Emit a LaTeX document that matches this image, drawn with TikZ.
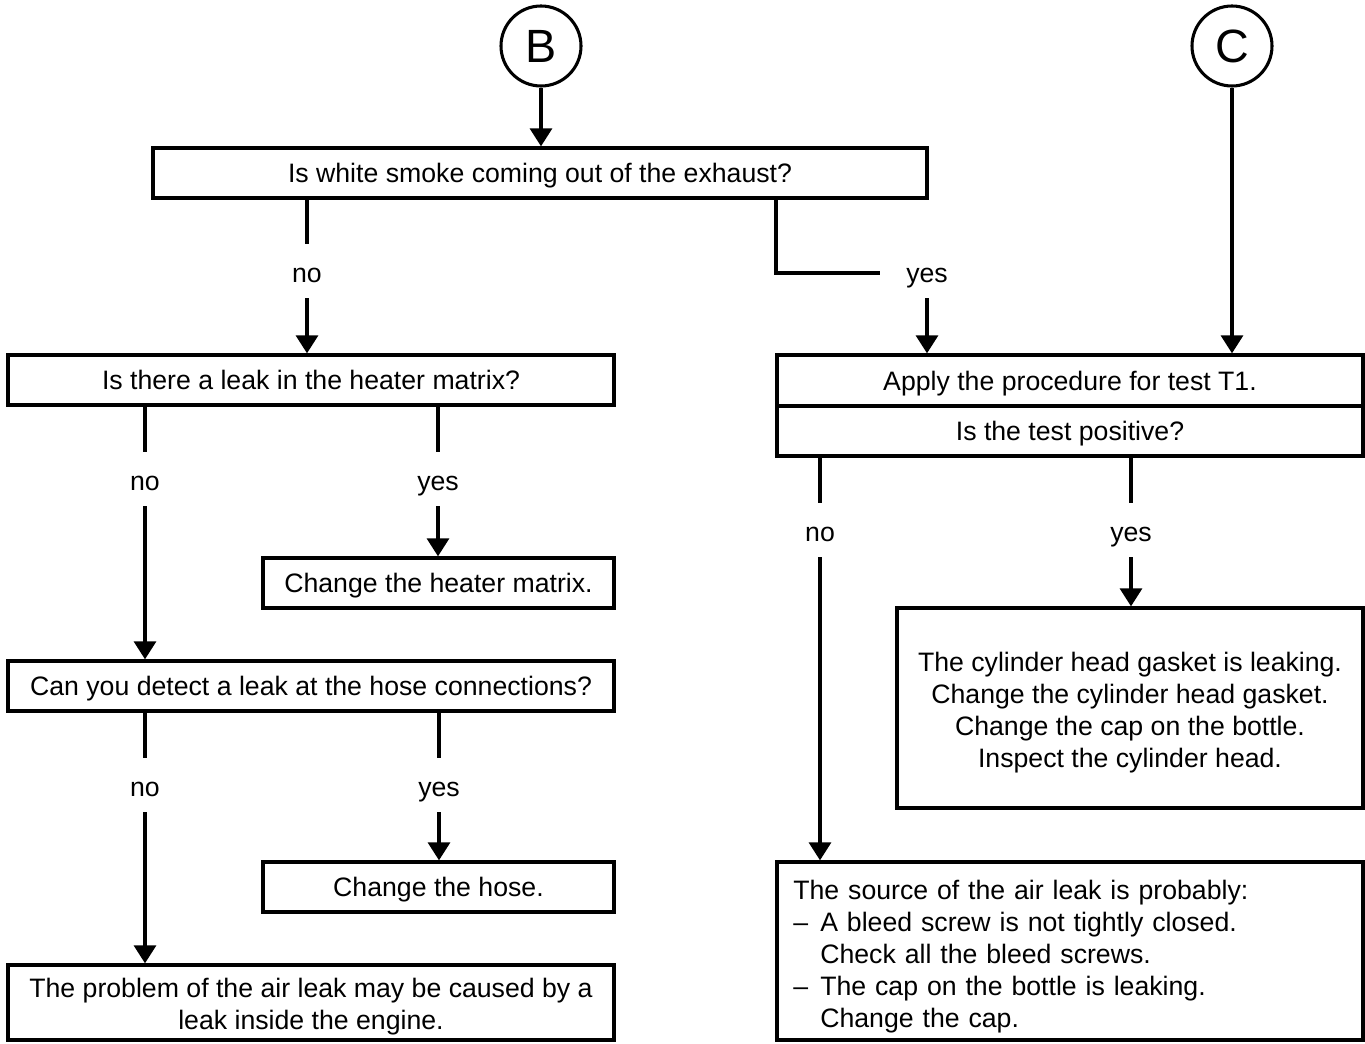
\documentclass[tikz,border=0pt]{standalone}
\usepackage{fontspec}
\setmainfont{Liberation Sans}
\usetikzlibrary{arrows.meta}
\begin{document}
\begin{tikzpicture}[x=0.75pt, y=-0.75pt,
  every node/.style={font=\fontsize{20pt}{24pt}\selectfont},
  box/.style={draw, line width=2.5pt, rectangle, inner sep=0pt, align=center},
  one/.style={text height=15pt, text depth=0.7pt},
  lbl/.style={inner xsep=2pt, inner ysep=10.25pt, text height=19pt, text depth=1pt},
  conn/.style={line width=2.5pt},
  arr/.style={conn, -{Triangle[width=16.5pt,length=13.5pt]}},
  ring/.style={draw, circle, line width=2.3pt, minimum size=60pt, inner sep=0pt,
    font=\fontsize{35pt}{40pt}\selectfont}]
\useasboundingbox (0,0) rectangle (1365,1044);

% entry points
\node[ring] (B) at (541,46) {B};
\node[ring] (C) at (1232,46) {C};

% left column
\node[box, one, minimum width=580.5pt, minimum height=37.5pt] (q1) at (540,173)
  {Is white smoke coming out of the exhaust?};
\node[box, one, minimum width=454.5pt, minimum height=37.5pt] (q2) at (311,380)
  {Is there a leak in the heater matrix?};
\node[box, one, minimum width=263.25pt, minimum height=37.5pt] (a1) at (438.5,583)
  {Change the heater matrix.};
\node[box, one, minimum width=454.5pt, minimum height=37.5pt] (q3) at (311,686)
  {Can you detect a leak at the hose connections?};
\node[box, one, minimum width=263.25pt, minimum height=37.5pt] (a2) at (438.5,887)
  {Change the hose.};
\node[box, minimum width=454.5pt, minimum height=56.25pt] (a3) at (311,1002.5)
  {\rule{0pt}{20.6pt}The problem of the air leak may be caused by a\\leak inside the engine.};

% right column
\node[box, one, minimum width=439.5pt, minimum height=38.25pt] (t1) at (1070,380.5)
  {Apply the procedure for test T1.};
\node[box, one, minimum width=439.5pt, minimum height=37.5pt] (t2) at (1070,431)
  {Is the test positive?};
\node[box, minimum width=349.5pt, minimum height=150pt] (a4) at (1130,708)
  {\rule{0pt}{22pt}The cylinder head gasket is leaking.\\Change the cylinder head gasket.\\
   Change the cap on the bottle.\\Inspect the cylinder head.};
\node[box, minimum width=439.5pt, minimum height=133.5pt, text width=415pt, align=left]
  (a5) at (1070,951)
  {\rule{0pt}{23.6pt}The source of the air leak is probably:\\
   \makebox[20.25pt][l]{–}A bleed screw is not tightly closed.\\
   \hspace*{20.25pt}Check all the bleed screws.\\
   \makebox[20.25pt][l]{–}The cap on the bottle is leaking.\\
   \hspace*{20.25pt}Change the cap.};

% branch labels
\node[lbl] (n1) at (307,271) {no};
\node[lbl, inner xsep=19.7pt] (y1) at (927,271) {yes};
\node[lbl] (n2) at (145,479) {no};
\node[lbl] (y2) at (438,479) {yes};
\node[lbl] (n3) at (145,785) {no};
\node[lbl] (y3) at (439,785) {yes};
\node[lbl] (n4) at (820,530) {no};
\node[lbl] (y4) at (1131,530) {yes};

\coordinate (k1) at (776,273);

% connectors
\draw[arr] (B.south) -- (B.south |- q1.north);
\draw[arr] (C.south) -- (C.south |- t1.north);

\draw[conn] (q1.south -| n1) -- (n1.north);
\draw[arr]  (n1.south) -- (n1.south |- q2.north);
\draw[conn] (q1.south -| k1) -- (k1) -- (k1 -| y1.west);
\draw[arr]  (y1.south) -- (y1.south |- t1.north);

\draw[conn] (q2.south -| n2) -- (n2.north);
\draw[arr]  (n2.south) -- (n2.south |- q3.north);
\draw[conn] (q2.south -| y2) -- (y2.north);
\draw[arr]  (y2.south) -- (y2.south |- a1.north);

\draw[conn] (q3.south -| n3) -- (n3.north);
\draw[arr]  (n3.south) -- (n3.south |- a3.north);
\draw[conn] (q3.south -| y3) -- (y3.north);
\draw[arr]  (y3.south) -- (y3.south |- a2.north);

\draw[conn] (t2.south -| n4) -- (n4.north);
\draw[arr]  (n4.south) -- (n4.south |- a5.north);
\draw[conn] (t2.south -| y4) -- (y4.north);
\draw[arr]  (y4.south) -- (y4.south |- a4.north);
\end{tikzpicture}
\end{document}
